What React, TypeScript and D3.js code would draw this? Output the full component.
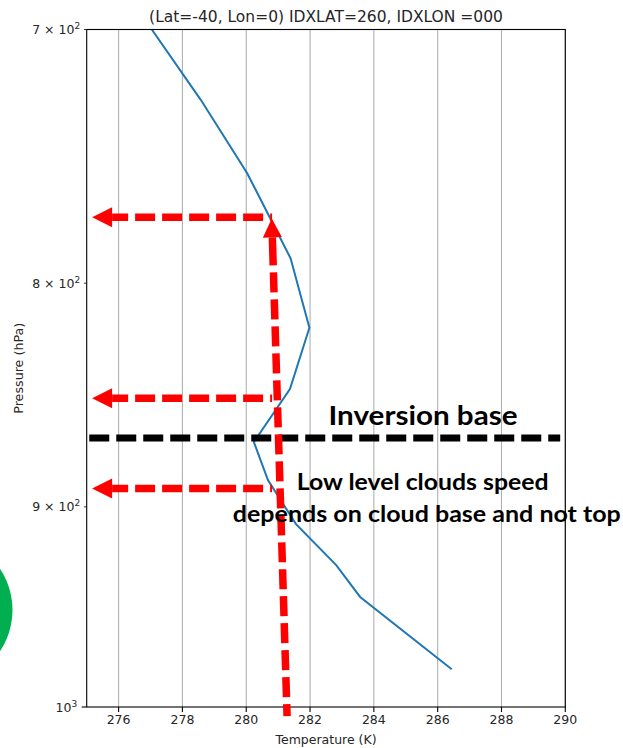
import React from "react";
import * as d3 from "d3";

// Temperature profile (K) vs pressure (hPa)
const temps = [277.04, 278.58, 280.03, 281.39, 281.98, 281.37, 280.24, 280.68, 281.56, 282.82, 283.57, 286.44];
const pressures = [700, 726.5, 755, 789.6, 819, 845.9, 869.8, 887.4, 908.2, 928, 943.7, 980.3];

const xTicks = [276, 278, 280, 282, 284, 286, 288, 290];
const yMinorTicks = [700, 800, 900];
const yMinorLabels = ["7", "8", "9"];
const yMajorTicks = [1000];

const titleText = "(Lat=-40, Lon=0) IDXLAT=260, IDXLON =000";
const xLabel = "Temperature (K)";
const yLabel = "Pressure (hPa)";

// Annotations (data coordinates: T in K, p in hPa)
const arrowLevels = [772.7, 850, 891.3];
const arrowTipT = 275.17;
const arrowTailT = 280.81;
const upArrowTip = { t: 280.8, p: 773.2 };
const upArrowTail = { t: 281.28, p: 1004.8 };
const inversionP = 868;
const inversionT = [275.08, 289.84];
const notes = [
  { text: "Inversion base", t: 285.54, p: 862.1, size: 27, len: 189 },
  { text: "Low level clouds speed", t: 285.53, p: 892.1, size: 22, len: 252 },
  { text: "depends on cloud base and not top", t: 285.66, p: 907.1, size: 22, len: 388 },
];

const W = 623, H = 748;
const L = 86.7, R = 565.3, T = 29.5, B = 707;

export default function App() {
  const x = d3.scaleLinear().domain([275, 290]).range([L, R]);
  const y = d3.scaleLog().domain([700, 1000]).range([T, B]);
  const line = d3.line<number>().x((_, i) => x(temps[i])).y((p) => y(p));
  const font = "'DejaVu Sans', sans-serif";
  const red = "#ff0000";

  const hArrows = arrowLevels.map((p, i) => {
    const yy = y(p);
    const tipX = x(arrowTipT);
    const baseX = tipX + 20;
    const endX = x(arrowTailT);
    return (
      <g key={i}>
        <line x1={baseX} y1={yy} x2={endX} y2={yy} stroke={red} strokeWidth={7.5} strokeDasharray="20 7" strokeDashoffset={4} />
        <polygon points={`${tipX},${yy} ${baseX},${yy - 10} ${baseX},${yy + 10}`} fill={red} />
      </g>
    );
  });

  const tx = x(upArrowTip.t), ty = y(upArrowTip.p);
  const bx = x(upArrowTail.t), by = y(upArrowTail.p);
  const len = Math.hypot(bx - tx, by - ty);
  const ux = (bx - tx) / len, uy = (by - ty) / len;
  const hb = { x: tx + ux * 19, y: ty + uy * 19 };
  const upHead = `${tx},${ty} ${hb.x - uy * 9.5},${hb.y + ux * 9.5} ${hb.x + uy * 9.5},${hb.y - ux * 9.5}`;

  return (
    <svg width={W} height={H} style={{ position: "absolute", left: 0, top: 0, background: "#fff" }}>
      <defs>
        <clipPath id="plotclip">
          <rect x={L} y={T} width={R - L} height={B - T} />
        </clipPath>
      </defs>
      <circle cx={-62} cy={610} r={74.5} fill="#00B050" />
      {/* grid */}
      {xTicks.map((t) => (
        <line key={t} x1={x(t)} x2={x(t)} y1={T} y2={B} stroke="#b0b0b0" strokeWidth={1.1} />
      ))}
      {/* profile */}
      <path d={line(pressures) || ""} fill="none" stroke="#1f77b4" strokeWidth={2} clipPath="url(#plotclip)" />
      {/* frame */}
      <rect x={L} y={T} width={R - L} height={B - T} fill="none" stroke="#000" strokeWidth={1.1} />
      {/* x ticks */}
      {xTicks.map((t) => (
        <g key={t}>
          <line x1={x(t)} x2={x(t)} y1={B} y2={B + 5} stroke="#000" strokeWidth={1.1} />
          <text x={x(t)} y={B + 17} textAnchor="middle" fontFamily={font} fontSize={12.5} fill="#262626">{t}</text>
        </g>
      ))}
      {/* y ticks */}
      {yMinorTicks.map((p, i) => (
        <g key={p}>
          <line x1={L - 2.8} x2={L} y1={y(p)} y2={y(p)} stroke="#000" strokeWidth={0.8} />
          <text x={L - 6.5} y={y(p) + 4.5} textAnchor="end" fontFamily={font} fontSize={12.5} fill="#262626">
            {yMinorLabels[i]} × 10<tspan dy={-5} fontSize={9}>2</tspan>
          </text>
        </g>
      ))}
      {yMajorTicks.map((p) => (
        <g key={p}>
          <line x1={L - 5} x2={L} y1={y(p)} y2={y(p)} stroke="#000" strokeWidth={1.1} />
          <text x={L - 9.5} y={y(p) + 4.5} textAnchor="end" fontFamily={font} fontSize={12.5} fill="#262626">
            10<tspan dy={-5} fontSize={9}>3</tspan>
          </text>
        </g>
      ))}
      {/* labels */}
      <text x={(L + R) / 2} y={21.5} textAnchor="middle" fontFamily={font} fontSize={15.5} fill="#262626">{titleText}</text>
      <text x={(L + R) / 2} y={744} textAnchor="middle" fontFamily={font} fontSize={12.5} fill="#262626">{xLabel}</text>
      <text transform={`translate(22.5,${(T + B) / 2}) rotate(-90)`} textAnchor="middle" fontFamily={font} fontSize={12.7} fill="#262626">{yLabel}</text>
      {/* annotations */}
      <line x1={x(inversionT[0])} x2={x(inversionT[1])} y1={y(inversionP)} y2={y(inversionP)} stroke="#000" strokeWidth={7} strokeDasharray="20 7" />
      {hArrows}
      <line x1={hb.x} y1={hb.y} x2={bx} y2={by} stroke={red} strokeWidth={7.5} strokeDasharray="28 7 20 7 20 7 20 7 20 7 20 7 20 7 20 7 20 7 20 7 20 7 20 7 20 7 20 7 20 7 20 7 20 7 20 7 20 7 20 7" />
      <polygon points={upHead} fill={red} />
      {notes.map((n) => (
        <text key={n.text} x={x(n.t)} y={y(n.p)} textAnchor="middle" fontFamily="Lato, 'Open Sans', sans-serif" fontWeight={700} fontSize={n.size} textLength={n.len} lengthAdjust="spacingAndGlyphs" fill="#000">
          {n.text}
        </text>
      ))}
    </svg>
  );
}
